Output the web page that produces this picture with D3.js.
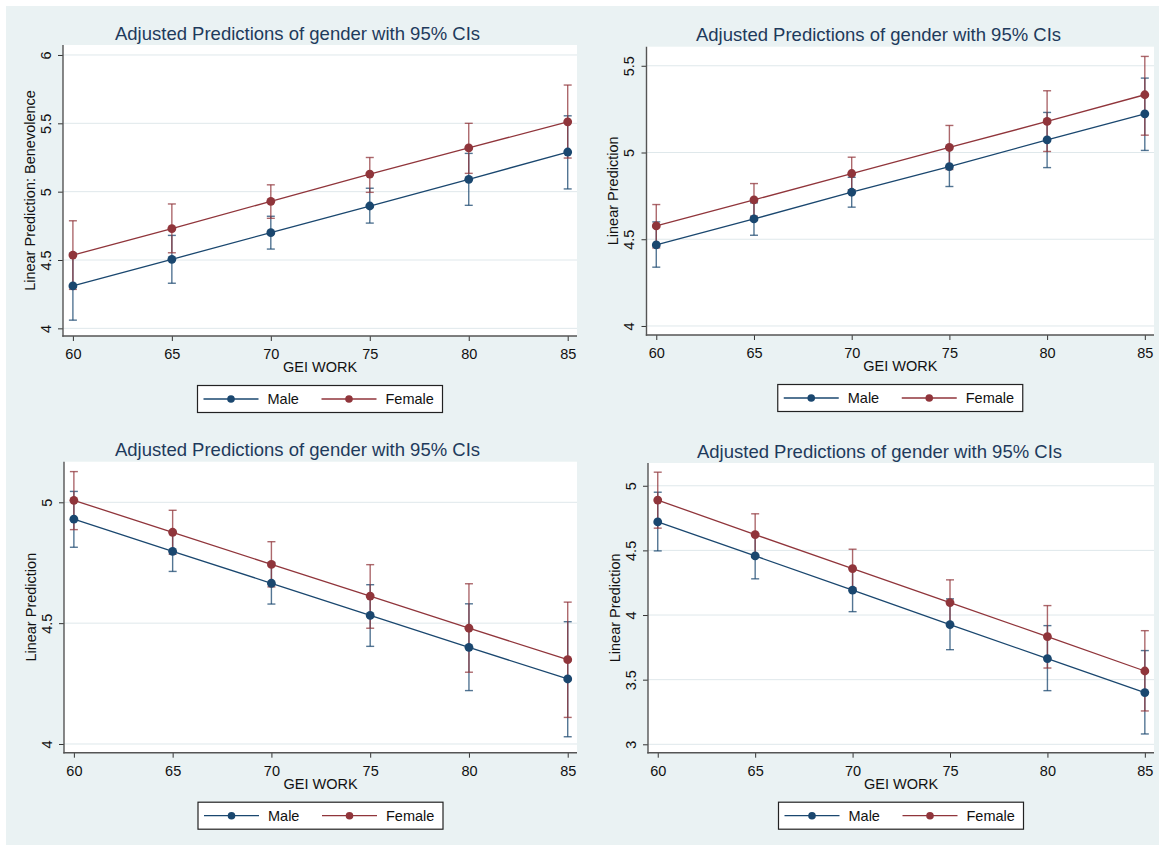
<!DOCTYPE html>
<html><head><meta charset="utf-8">
<script src="https://cdn.jsdelivr.net/npm/d3@7"></script>
<style>html,body{margin:0;padding:0;background:#fff;}svg{display:block;}</style>
</head><body>
<script>
// ---------- DATA ----------
const xValues = [60, 65, 70, 75, 80, 85];
const xTicks = [60, 65, 70, 75, 80, 85];
const seriesNames = ["Male", "Female"];
const chartTitle = "Adjusted Predictions of gender with 95% CIs";
const xAxisTitle = "GEI WORK";

// Panel 1 (top-left)
const yTitle1 = "Linear Prediction: Benevolence";
const yTicks1 = [4, 4.5, 5, 5.5, 6];
const yRange1 = [3.944, 6.073];
const male1 = [4.31, 4.505, 4.70, 4.895, 5.09, 5.29];
const male1Lo = [4.06, 4.33, 4.58, 4.77, 4.90, 5.02];
const male1Hi = [4.55, 4.68, 4.82, 5.025, 5.28, 5.555];
const female1 = [4.536, 4.73, 4.929, 5.129, 5.32, 5.511];
const female1Lo = [4.285, 4.553, 4.805, 4.995, 5.134, 5.246];
const female1Hi = [4.787, 4.91, 5.05, 5.25, 5.50, 5.78];

// Panel 2 (top-right)
const yTitle2 = "Linear Prediction";
const yTicks2 = [4, 4.5, 5, 5.5];
const yRange2 = [3.948, 5.61];
const male2 = [4.467, 4.617, 4.771, 4.919, 5.073, 5.223];
const male2Lo = [4.339, 4.523, 4.685, 4.804, 4.913, 5.012];
const male2Hi = [4.60, 4.71, 4.857, 5.034, 5.231, 5.429];
const female2 = [4.577, 4.727, 4.879, 5.029, 5.179, 5.333];
const female2Lo = [4.45, 4.633, 4.785, 4.902, 5.006, 5.10];
const female2Hi = [4.70, 4.821, 4.973, 5.156, 5.356, 5.554];

// Panel 3 (bottom-left)
const yTitle3 = "Linear Prediction";
const yTicks3 = [4, 4.5, 5];
const yRange3 = [3.964, 5.168];
const male3 = [4.93, 4.797, 4.665, 4.532, 4.40, 4.269];
const male3Lo = [4.814, 4.714, 4.579, 4.404, 4.221, 4.03];
const male3Hi = [5.045, 4.88, 4.75, 4.659, 4.58, 4.506];
const female3 = [5.008, 4.876, 4.743, 4.612, 4.479, 4.349];
const female3Lo = [4.887, 4.785, 4.65, 4.479, 4.297, 4.11];
const female3Hi = [5.127, 4.967, 4.837, 4.742, 4.663, 4.587];

// Panel 4 (bottom-right)
const yTitle4 = "Linear Prediction";
const yTicks4 = [3, 3.5, 4, 4.5, 5];
const yRange4 = [2.935, 5.176];
const male4 = [4.72, 4.457, 4.192, 3.926, 3.663, 3.40];
const male4Lo = [4.496, 4.28, 4.026, 3.732, 3.415, 3.08];
const male4Hi = [4.95, 4.63, 4.36, 4.125, 3.918, 3.725];
const female4 = [4.889, 4.622, 4.359, 4.096, 3.833, 3.567];
const female4Lo = [4.672, 4.46, 4.21, 3.92, 3.59, 3.258];
const female4Hi = [5.105, 4.783, 4.509, 4.272, 4.073, 3.879];

const xRange = [59.5, 85.47];

// ---------- LAYOUT / STYLE ----------
const W = 1159, H = 845;
const colors = ["#1a476f", "#90353b"];
const bg = "#eaf2f3";
const FONT = "'Liberation Sans', Arial, Helvetica, sans-serif";

const panels = [
  {box: {left: 63, top: 45, right: 577, bottom: 336}, titleX: 297.5, yTitle: yTitle1, yTicks: yTicks1, yRange: yRange1,
   series: [[male1, male1Lo, male1Hi], [female1, female1Lo, female1Hi]]},
  {box: {left: 646.5, top: 46.7, right: 1154, bottom: 335}, titleX: 878.5, yTitle: yTitle2, yTicks: yTicks2, yRange: yRange2,
   series: [[male2, male2Lo, male2Hi], [female2, female2Lo, female2Hi]]},
  {box: {left: 64, top: 461.7, right: 577, bottom: 752.7}, titleX: 297.5, yTitle: yTitle3, yTicks: yTicks3, yRange: yRange3,
   series: [[male3, male3Lo, male3Hi], [female3, female3Lo, female3Hi]]},
  {box: {left: 648, top: 463, right: 1154, bottom: 752.7}, titleX: 879.5, yTitle: yTitle4, yTicks: yTicks4, yRange: yRange4,
   series: [[male4, male4Lo, male4Hi], [female4, female4Lo, female4Hi]]}
];

const svg = d3.select("body").append("svg").attr("width", W).attr("height", H)
  .style("font-family", FONT);

svg.append("rect").attr("width", W).attr("height", H).attr("fill", bg);
svg.append("rect").attr("x", 0).attr("y", 0).attr("width", 6).attr("height", H).attr("fill", "#fff");
svg.append("rect").attr("x", 0).attr("y", 0).attr("width", W).attr("height", 6).attr("fill", "#fff");

panels.forEach(p => {
  const b = p.box;
  const g = svg.append("g");
  const x = d3.scaleLinear().domain(xRange).range([b.left, b.right]);
  const y = d3.scaleLinear().domain(p.yRange).range([b.bottom, b.top]);

  // plot region
  g.append("rect").attr("x", b.left).attr("y", b.top)
    .attr("width", b.right - b.left).attr("height", b.bottom - b.top).attr("fill", "#fff");

  // gridlines
  g.selectAll(".grid").data(p.yTicks).enter().append("line")
    .attr("x1", b.left).attr("x2", b.right)
    .attr("y1", d => y(d)).attr("y2", d => y(d))
    .attr("stroke", "#dfe8eb").attr("stroke-width", 1);

  // title
  g.append("text").attr("x", p.titleX).attr("y", b.top - 5.5)
    .attr("text-anchor", "middle").attr("font-size", "18.5px").attr("fill", "#1e3a5c")
    .text(chartTitle);

  // axes
  const yAxis = d3.axisLeft(y).tickValues(p.yTicks).tickSize(5).tickPadding(7)
    .tickFormat(d3.format("~g"));
  const ya = g.append("g").attr("transform", `translate(${b.left},0)`).call(yAxis);
  ya.select(".domain").remove();
  ya.selectAll(".tick line").attr("stroke", "#333").attr("stroke-width", 1);
  ya.selectAll(".tick text")
    .attr("font-size", "14.5px").attr("fill", "#111").attr("font-family", FONT)
    .attr("text-anchor", "middle").attr("dy", null).attr("x", null)
    .attr("transform", "translate(-12.5,0) rotate(-90)");

  const xAxis = d3.axisBottom(x).tickValues(xTicks).tickSize(5).tickPadding(6)
    .tickFormat(d3.format("d"));
  const xa = g.append("g").attr("transform", `translate(0,${b.bottom})`).call(xAxis);
  xa.select(".domain").remove();
  xa.selectAll(".tick line").attr("stroke", "#333").attr("stroke-width", 1);
  xa.selectAll(".tick text").attr("font-size", "14.5px").attr("fill", "#111").attr("font-family", FONT)
    .attr("dy", null).attr("y", 23);

  // axis lines
  g.append("line").attr("x1", b.left).attr("x2", b.left).attr("y1", b.top).attr("y2", b.bottom + 0.7)
    .attr("stroke", "#555").attr("stroke-width", 1.4);
  g.append("line").attr("x1", b.left - 0.7).attr("x2", b.right).attr("y1", b.bottom).attr("y2", b.bottom)
    .attr("stroke", "#555").attr("stroke-width", 1.4);

  // axis titles
  g.append("text").attr("transform", `translate(${b.left - 28.5},${(b.top + b.bottom) / 2}) rotate(-90)`)
    .attr("text-anchor", "middle").attr("font-size", "14.5px").attr("fill", "#111").text(p.yTitle);
  g.append("text").attr("x", (b.left + b.right) / 2).attr("y", b.bottom + 36)
    .attr("text-anchor", "middle").attr("font-size", "14.5px").attr("fill", "#111").text(xAxisTitle);

  // CIs
  p.series.forEach((s, si) => {
    const [vals, lo, hi] = s;
    const ci = g.append("g").attr("stroke", colors[si]).attr("stroke-width", 1.4).attr("stroke-opacity", 0.75);
    xValues.forEach((xv, i) => {
      ci.append("line").attr("x1", x(xv)).attr("x2", x(xv)).attr("y1", y(lo[i])).attr("y2", y(hi[i]));
      ci.append("line").attr("x1", x(xv) - 4).attr("x2", x(xv) + 4).attr("y1", y(lo[i])).attr("y2", y(lo[i]));
      ci.append("line").attr("x1", x(xv) - 4).attr("x2", x(xv) + 4).attr("y1", y(hi[i])).attr("y2", y(hi[i]));
    });
  });

  // lines + markers
  p.series.forEach((s, si) => {
    const vals = s[0];
    const pts = xValues.map((xv, i) => [xv, vals[i]]);
    g.append("path").datum(pts)
      .attr("d", d3.line().x(d => x(d[0])).y(d => y(d[1])))
      .attr("fill", "none").attr("stroke", colors[si]).attr("stroke-width", 1.3);
    g.selectAll(null).data(pts).enter().append("circle")
      .attr("cx", d => x(d[0])).attr("cy", d => y(d[1])).attr("r", 4.4)
      .attr("fill", colors[si]);
  });

  // legend
  const lw = 245, lh = 27;
  const lx = (b.left + b.right) / 2 - lw / 2, ly = b.bottom + 49.5;
  const lg = g.append("g").attr("transform", `translate(${lx},${ly})`);
  lg.append("rect").attr("width", lw).attr("height", lh).attr("fill", "#fff")
    .attr("stroke", "#222").attr("stroke-width", 1.2);
  const keyStarts = [6, 124];
  seriesNames.forEach((name, si) => {
    const k = keyStarts[si];
    lg.append("line").attr("x1", k).attr("x2", k + 55).attr("y1", lh / 2).attr("y2", lh / 2)
      .attr("stroke", colors[si]).attr("stroke-width", 1.3);
    lg.append("circle").attr("cx", k + 27.5).attr("cy", lh / 2).attr("r", 3.8).attr("fill", colors[si]);
    lg.append("text").attr("x", k + 64).attr("y", lh / 2 + 5.3).attr("font-size", "14.5px")
      .attr("fill", "#111").text(name);
  });
});
</script>
</body></html>
